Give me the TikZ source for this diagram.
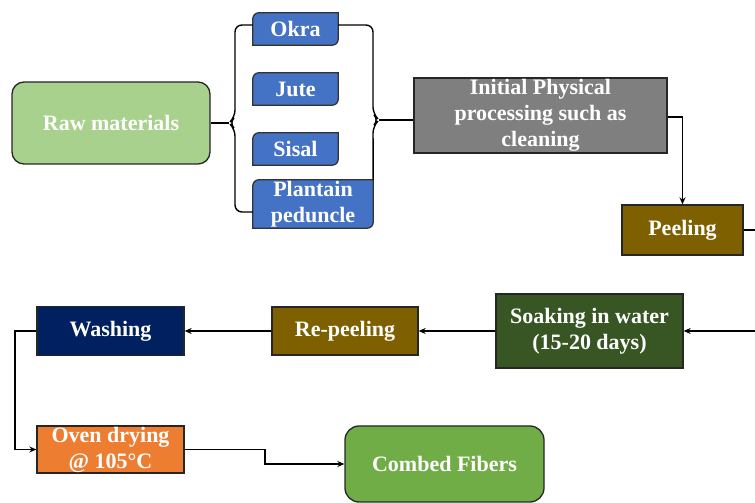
\documentclass[tikz,border=0pt]{standalone}
\usepackage{fontspec}
\setmainfont{Liberation Serif}
\usetikzlibrary{calc,arrows.meta,backgrounds}
\definecolor{rawG}{HTML}{A9D18E}
\definecolor{blueF}{HTML}{4472C4}
\definecolor{grayF}{HTML}{7F7F7F}
\definecolor{brownF}{HTML}{7F6000}
\definecolor{soakF}{HTML}{375623}
\definecolor{navyF}{HTML}{002060}
\definecolor{ovenF}{HTML}{ED7D31}
\definecolor{combF}{HTML}{70AD47}
\newcommand\diagfill[1]{\filldraw[bluebox] (#1.south west) -- ($(#1.north west)+(0,-6)$) arc[start angle=180,end angle=90,radius=6] -- (#1.north east) -- ($(#1.south east)+(0,6)$) arc[start angle=0,end angle=-90,radius=6] -- cycle;}
\begin{document}
\begin{tikzpicture}[x=1pt,y=1pt,
  lbl/.style={text=white, font=\bfseries\fontsize{22}{26}\selectfont, align=center, inner sep=0pt},
  boxed/.style={lbl, draw=black!85, line width=1.3pt},
  bluebox/.style={fill=blueF, draw=black!80, line width=1.3pt},
  conn/.style={line width=1.4pt, black},
  arr/.style={conn, -{Stealth[length=7pt,width=6pt]}},
  brace/.style={conn, rounded corners=7pt}]
\useasboundingbox (0,0) rectangle (755,503);
% nodes
\node[boxed, fill=rawG, rounded corners=12pt, minimum width=198, minimum height=82] (raw) at (111,380) {Raw materials};
\node[lbl, minimum width=85, minimum height=32] (okra) at (295.5,474) {Okra};
\node[lbl, minimum width=85, minimum height=32] (jute) at (295.5,414) {Jute};
\node[lbl, minimum width=85, minimum height=32] (sisal) at (295.5,354) {Sisal};
\node[lbl, minimum width=120, minimum height=48] (plant) at (313,299) {Plantain\\peduncle};
\begin{scope}[on background layer]
\diagfill{okra}
\diagfill{jute}
\diagfill{sisal}
\diagfill{plant}
\end{scope}
\node[boxed, fill=grayF, minimum width=253, minimum height=75] (gray) at (540.5,387.5) {Initial Physical\\processing such as\\cleaning};
\node[boxed, fill=brownF, minimum width=121, minimum height=50] (peel) at (682.5,273) {Peeling};
\node[boxed, fill=soakF, minimum width=187, minimum height=74] (soak) at (589.5,172) {Soaking in water\\(15-20 days)};
\node[boxed, fill=brownF, minimum width=146, minimum height=48] (repeel) at (345,172) {Re-peeling};
\node[boxed, fill=navyF, minimum width=147, minimum height=49] (wash) at (110.5,172) {Washing};
\node[boxed, fill=ovenF, minimum width=147, minimum height=47] (oven) at (110.5,53.5) {Oven drying\\@ 105°C};
\node[boxed, fill=combF, rounded corners=14pt, minimum width=199, minimum height=76] (comb) at (444.5,39) {Combed Fibers};
% braces
\coordinate (lt) at (229,380);
\coordinate (rt) at (379,383);
\draw[brace] ($(okra.west)+(0,4)$) -- (235,478) -- (235,386) -- (lt) -- (235,374) -- (235,291) -- (plant.west |- 0,291);
\draw[conn] (raw.east) -- (lt);
\draw[brace] ($(okra.east)+(0,4)$) -- (373,478) -- (373,389) -- (rt) -- (373,377) -- (plant.north east);
\draw[conn] (rt) -- (gray.west |- rt);
% flow
\coordinate (pe) at (755,273);
\coordinate (se) at (755,172);
\draw[arr] ($(gray.east)+(0,-1.5)$) -| (peel.north);
\draw[conn] (peel.east) -- (pe);
\draw[arr] (se) -- (soak.east);
\draw[arr] (soak.west) -- (repeel.east);
\draw[arr] (repeel.west) -- (wash.east);
\draw[arr] (wash.west) -- (15,172) |- (oven.west);
\draw[arr] (oven.east) -- (265,53.5) |- (comb.west);
\end{tikzpicture}
\end{document}
